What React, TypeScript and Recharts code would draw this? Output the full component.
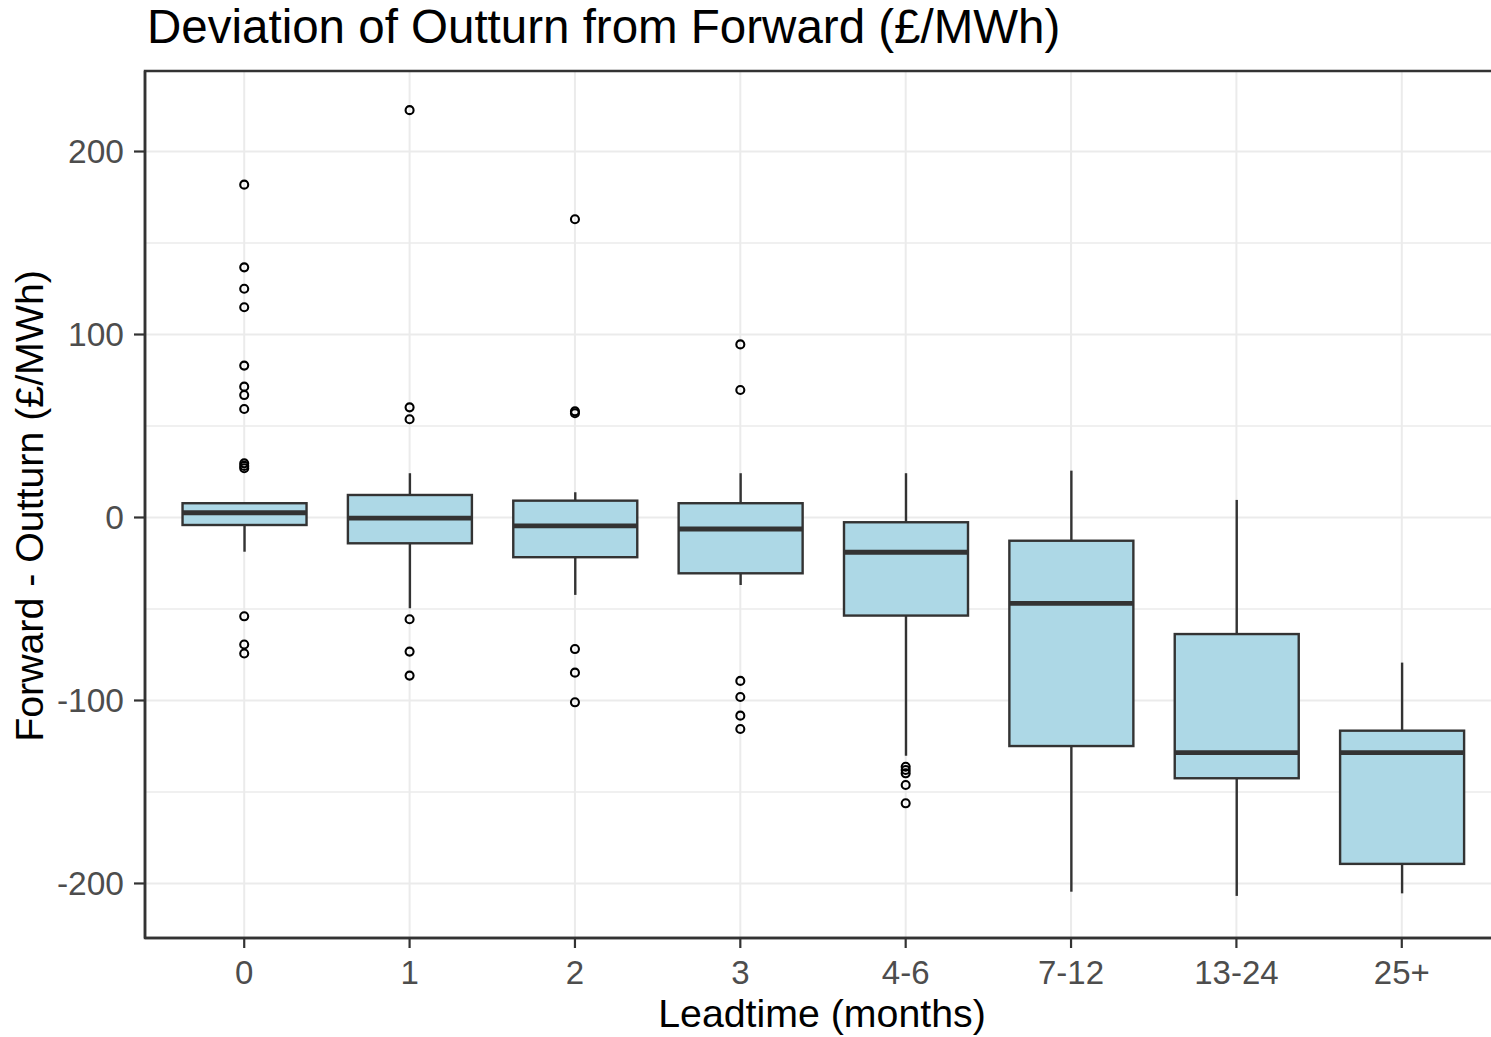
import React from 'react';
import { ComposedChart, Bar, Scatter, XAxis, YAxis, CartesianGrid, ReferenceArea } from 'recharts';

// ---- data ----
const categories = ['0', '1', '2', '3', '4-6', '7-12', '13-24', '25+'];
const whiskerLow = [-18.7, -49.6, -42.3, -36.9, -130.2, -204.5, -206.8, -205.4];
const q1 = [-4.1, -14.1, -21.7, -30.5, -53.6, -124.9, -142.5, -189.3];
const median = [2.6, -0.4, -4.6, -6.3, -19.0, -46.9, -128.5, -128.5];
const q3 = [7.8, 12.3, 9.2, 7.8, -2.6, -12.7, -63.7, -116.5];
const whiskerHigh = [8.0, 24.2, 13.8, 24.2, 24.2, 25.6, 9.6, -79.3];
const outlierValues = [
  [181.9, 136.7, 125.0, 114.9, 83.0, 71.5, 66.9, 59.3, 29.6, 28.2, 26.9, -54.0, -69.4, -74.3],
  [222.6, 60.2, 53.7, -55.6, -73.3, -86.4],
  [163.0, 58.0, 57.0, -71.9, -84.8, -101.0],
  [94.6, 69.7, -89.3, -98.1, -108.3, -115.6],
  [-136.2, -138.0, -139.8, -146.2, -156.2],
  [],
  [],
  [],
];
const yTicks = [-200, -100, 0, 100, 200];
const yMinor = [-150, -50, 50, 150];
const yDomain = [-229.8, 244];
const xDomain = [0.4, 8.6];

const boxData = categories.map((c, i) => ({
  pos: i + 1,
  cat: c,
  whiskerLow: whiskerLow[i],
  q1: q1[i],
  median: median[i],
  q3: q3[i],
  whiskerHigh: whiskerHigh[i],
}));

const outlierData = outlierValues.flatMap((vals, i) => vals.map((v) => ({ pos: i + 1, v })));

// ---- layout ----
const CHART_W = 1520;
const CHART_H = 1037;
const LEFT = 145;
const RIGHT_MARGIN = 19;
const TOP = 71;
const X_AXIS_H = 99;
const PLOT_W = CHART_W - LEFT - RIGHT_MARGIN;
const BAR_SIZE = Math.round((PLOT_W / (xDomain[1] - xDomain[0])) * 0.75);

const STROKE = '#333333';
const FILL = '#ADD8E6';
const FONT = '"Liberation Sans", Arial, Helvetica, sans-serif';

const BoxShape = (props: any) => {
  const { x, y, width, height, payload } = props;
  if (!payload) return null;
  const top = Math.min(y, y + height);
  const h = Math.abs(height);
  const lo = payload.whiskerLow;
  const hi = payload.whiskerHigh;
  const toPx = (v: number) => (hi === lo ? top : top + ((hi - v) / (hi - lo)) * h);
  const cx = x + width / 2;
  const yHi = toPx(hi);
  const yQ3 = toPx(payload.q3);
  const yMed = toPx(payload.median);
  const yQ1 = toPx(payload.q1);
  const yLo = toPx(lo);
  return (
    <g>
      <line x1={cx} x2={cx} y1={yHi} y2={yQ3} stroke={STROKE} strokeWidth={2.4} />
      <line x1={cx} x2={cx} y1={yQ1} y2={yLo} stroke={STROKE} strokeWidth={2.4} />
      <rect x={x} y={yQ3} width={width} height={yQ1 - yQ3} fill={FILL} stroke={STROKE} strokeWidth={2.4} />
      <line x1={x} x2={x + width} y1={yMed} y2={yMed} stroke={STROKE} strokeWidth={4.8} />
    </g>
  );
};

const OutlierShape = (props: any) => {
  const { cx, cy } = props;
  if (cx == null || cy == null) return null;
  return <circle cx={cx} cy={cy} r={4} fill="none" stroke="#000000" strokeWidth={2.1} />;
};

export default function App() {
  return (
    <div
      style={{
        position: 'absolute',
        left: 0,
        top: 0,
        width: 1491,
        height: 1037,
        overflow: 'hidden',
        background: '#ffffff',
        fontFamily: FONT,
      }}
    >
      <ComposedChart
        width={CHART_W}
        height={CHART_H}
        data={boxData}
        margin={{ top: TOP, right: RIGHT_MARGIN, bottom: 0, left: 0 }}
        style={{ fontFamily: FONT }}
      >
        <CartesianGrid
          vertical={false}
          horizontalValues={yMinor}
          stroke="#ebebeb"
          strokeWidth={1.4}
        />
        <CartesianGrid stroke="#ebebeb" strokeWidth={2} />
        <XAxis
          dataKey="pos"
          type="number"
          domain={xDomain}
          ticks={[1, 2, 3, 4, 5, 6, 7, 8]}
          allowDataOverflow
          tickFormatter={(v: number) => categories[v - 1] ?? ''}
          height={X_AXIS_H}
          tickSize={10}
          tickMargin={13}
          axisLine={{ stroke: STROKE, strokeWidth: 2.5 }}
          tickLine={{ stroke: STROKE, strokeWidth: 2.2 }}
          tick={{ fill: '#4d4d4d', fontSize: 33, fontFamily: FONT }}
          interval={0}
        />
        <YAxis
          type="number"
          domain={yDomain}
          ticks={yTicks}
          allowDataOverflow
          width={LEFT}
          tickSize={11}
          tickMargin={10}
          axisLine={{ stroke: STROKE, strokeWidth: 2.5 }}
          tickLine={{ stroke: STROKE, strokeWidth: 2.2 }}
          tick={{ fill: '#4d4d4d', fontSize: 33.5, fontFamily: FONT }}
          interval={0}
        />
        <Bar
          dataKey={(d: any) => [d.whiskerLow, d.whiskerHigh]}
          barSize={BAR_SIZE}
          shape={BoxShape}
          isAnimationActive={false}
        />
        <Scatter data={outlierData} dataKey="v" shape={OutlierShape} isAnimationActive={false} />
        <ReferenceArea
          x1={xDomain[0]}
          x2={xDomain[1]}
          y1={yDomain[0]}
          y2={yDomain[1]}
          fill="none"
          fillOpacity={0}
          stroke={STROKE}
          strokeWidth={2.5}
          ifOverflow="visible"
        />
      </ComposedChart>
      <svg
        width={1491}
        height={1037}
        style={{ position: 'absolute', left: 0, top: 0, pointerEvents: 'none' }}
      >
        <text x={147} y={43} fontSize={47.5} fill="#000000" fontFamily={FONT}>
          Deviation of Outturn from Forward (£/MWh)
        </text>
        <text x={822} y={1027} fontSize={39.3} fill="#000000" fontFamily={FONT} textAnchor="middle">
          Leadtime (months)
        </text>
        <text
          transform="translate(43, 506) rotate(-90)"
          fontSize={39.3}
          fill="#000000"
          fontFamily={FONT}
          textAnchor="middle"
        >
          Forward - Outturn (£/MWh)
        </text>
      </svg>
    </div>
  );
}
